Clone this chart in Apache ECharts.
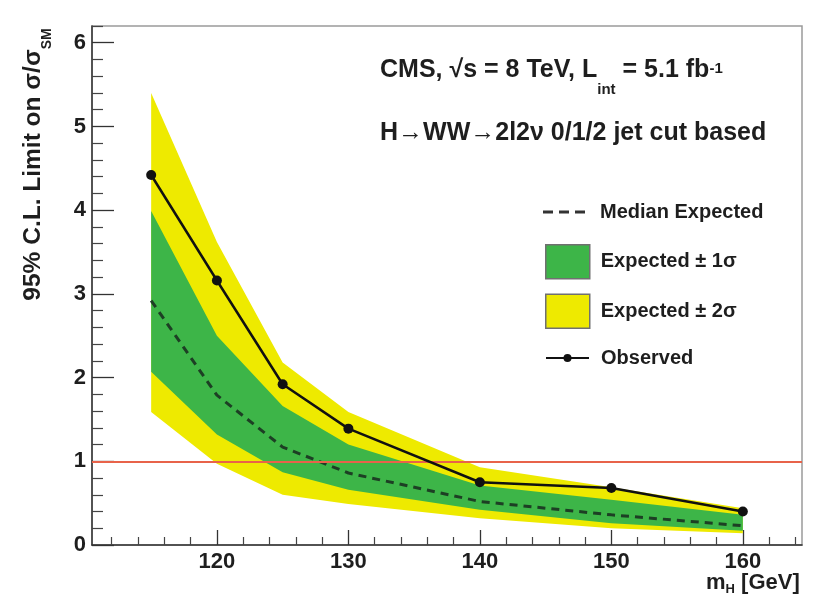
<!DOCTYPE html>
<html>
<head>
<meta charset="utf-8">
<script src="https://cdn.jsdelivr.net/npm/echarts@6/dist/echarts.min.js"></script>
<style>
html,body{margin:0;padding:0;background:#fff;}
#chart{width:828px;height:600px;}
</style>
</head>
<body>
<div id="chart"></div>
<script>
// ---- data ----
const mass      = [115, 120, 125, 130, 140, 150, 160];
const observed  = [4.42, 3.16, 1.92, 1.39, 0.75, 0.68, 0.40];
const expMedian = [2.92, 1.79, 1.17, 0.86, 0.52, 0.36, 0.23];
const exp1sUp   = [3.99, 2.50, 1.66, 1.20, 0.71, 0.54, 0.36];
const exp1sDown = [2.07, 1.32, 0.87, 0.66, 0.42, 0.26, 0.17];
const exp2sUp   = [5.40, 3.62, 2.18, 1.59, 0.93, 0.69, 0.44];
const exp2sDown = [1.59, 0.97, 0.60, 0.49, 0.32, 0.20, 0.14];
const smLine    = 1;

const xMajorTicks = [120, 130, 140, 150, 160];
const xMinorTicks = [112, 114, 116, 118, 122, 124, 126, 128, 132, 134, 136, 138, 142, 144, 146, 148, 152, 154, 156, 158, 162, 164];
const yMajorTicks = [0, 1, 2, 3, 4, 5, 6];
const yMinorTicks = [0.2, 0.4, 0.6, 0.8, 1.2, 1.4, 1.6, 1.8, 2.2, 2.4, 2.6, 2.8, 3.2, 3.4, 3.6, 3.8, 4.2, 4.4, 4.6, 4.8, 5.2, 5.4, 5.6, 5.8, 6.2];

const FONT = '"Liberation Sans", Arial, Helvetica, sans-serif';
const YELLOW = '#eeea00';
const GREEN = '#3db548';
const TXT = '#1e1e1e';

function bandRenderer(up, down, fill) {
  return function (params, api) {
    if (params.dataIndex !== 0) return null;
    const pts = [];
    for (let i = 0; i < mass.length; i++) pts.push(api.coord([mass[i], up[i]]));
    for (let i = mass.length - 1; i >= 0; i--) pts.push(api.coord([mass[i], down[i]]));
    return { type: 'polygon', shape: { points: pts }, style: { fill: fill } };
  };
}

const chart = echarts.init(document.getElementById('chart'), null, { renderer: 'canvas' });

const option = {
  animation: false,
  backgroundColor: '#ffffff',
  textStyle: { fontFamily: FONT },
  title: [
    {
      left: 380, top: 58, padding: 0,
      text: '{a|CMS, √s = 8 TeV, L}{sub|int}{a| = 5.1 fb}{sup|-1}',
      textStyle: {
        rich: {
          a: { fontFamily: FONT, fontWeight: 'bold', fontSize: 25, lineHeight: 32, color: TXT, verticalAlign: 'top' },
          sub: { fontFamily: FONT, fontWeight: 'bold', fontSize: 15, lineHeight: 15, color: TXT, verticalAlign: 'top', padding: [24, 0, 0, 0] },
          sup: { fontFamily: FONT, fontWeight: 'bold', fontSize: 15, lineHeight: 15, color: TXT, verticalAlign: 'top', padding: [3, 0, 0, 0] }
        }
      }
    },
    {
      left: 380, top: 121, padding: 0,
      text: 'H→WW→2l2ν 0/1/2 jet cut based',
      textStyle: { fontFamily: FONT, fontWeight: 'bold', fontSize: 25, color: TXT }
    }
  ],
  legend: [
    {
      left: 543, top: 202, padding: 0, itemWidth: 42, itemHeight: 3,
      data: [{ name: 'Median Expected', icon: 'path://M0,0h10v3h-10z M16,0h10v3h-10z M32,0h10v3h-10z', itemStyle: { color: '#333333' } }],
      textStyle: { fontFamily: FONT, fontWeight: 'bold', fontSize: 20, color: TXT, padding: [0, 0, 0, 10] }
    },
    {
      left: 545, top: 244, padding: 0, orient: 'vertical', itemWidth: 44, itemHeight: 34, itemGap: 14,
      data: [{ name: 'Expected ± 1σ', icon: 'rect' }, { name: 'Expected ± 2σ', icon: 'rect' }],
      itemStyle: { borderColor: '#707070', borderWidth: 1.5 },
      textStyle: { fontFamily: FONT, fontWeight: 'bold', fontSize: 20, color: TXT, padding: [0, 0, 0, 6] }
    },
    {
      left: 545, top: 348, padding: 0, itemWidth: 43, itemHeight: 10,
      data: ['Observed'],
      textStyle: { fontFamily: FONT, fontWeight: 'bold', fontSize: 20, color: TXT, padding: [0, 0, 0, 7] }
    }
  ],
  grid: {
    left: 92, right: 26, top: 26, bottom: 55,
    show: true, borderColor: '#9a9a9a', borderWidth: 1.5, backgroundColor: '#ffffff',
    outerBoundsMode: 'none'
  },
  xAxis: [
    {
      type: 'value', min: 110.5, max: 164.5, position: 'bottom',
      name: '{a|m}{sub|H}{a| [GeV]}',
      nameLocation: 'end', nameGap: -96, nameMoveOverlap: false,
      nameTextStyle: {
        verticalAlign: 'top', padding: [27, 0, 0, 0],
        rich: {
          a: { fontFamily: FONT, fontWeight: 'bold', fontSize: 22, lineHeight: 24, color: TXT, verticalAlign: 'top' },
          sub: { fontFamily: FONT, fontWeight: 'bold', fontSize: 13, lineHeight: 13, color: TXT, verticalAlign: 'top', padding: [11, 0, 0, 0] }
        }
      },
      axisLine: { show: true, onZero: false, lineStyle: { color: '#333', width: 1.5 } },
      axisTick: { show: true, inside: true, length: 15, customValues: xMajorTicks, lineStyle: { color: '#333', width: 1.3 } },
      axisLabel: { show: true, customValues: xMajorTicks, margin: 6, fontFamily: FONT, fontWeight: 'bold', fontSize: 22, color: TXT },
      splitLine: { show: false }
    },
    {
      type: 'value', min: 110.5, max: 164.5, position: 'bottom', gridIndex: 0,
      axisLine: { show: false },
      axisTick: { show: true, inside: true, length: 8, customValues: xMinorTicks, lineStyle: { color: '#444', width: 1.2 } },
      axisLabel: { show: false },
      splitLine: { show: false }
    }
  ],
  yAxis: [
    {
      type: 'value', min: 0, max: 6.2, position: 'left',
      name: '{a|95% C.L. Limit on σ/σ}{sub|SM}',
      nameLocation: 'middle', nameGap: 41, nameRotate: 90, nameMoveOverlap: false,
      nameTextStyle: {
        padding: [0, 0, 0, 242],
        rich: {
          a: { fontFamily: FONT, fontWeight: 'bold', fontSize: 24.5, lineHeight: 30, color: TXT, verticalAlign: 'top' },
          sub: { fontFamily: FONT, fontWeight: 'bold', fontSize: 14, lineHeight: 14, color: TXT, verticalAlign: 'top', padding: [19, 0, 0, 0] }
        }
      },
      axisLine: { show: true, onZero: false, lineStyle: { color: '#333', width: 1.5 } },
      axisTick: { show: true, inside: true, length: 22, customValues: yMajorTicks, lineStyle: { color: '#333', width: 1.3 } },
      axisLabel: { show: true, customValues: yMajorTicks, margin: 6, fontFamily: FONT, fontWeight: 'bold', fontSize: 22, color: TXT },
      splitLine: { show: false }
    },
    {
      type: 'value', min: 0, max: 6.2, position: 'left', gridIndex: 0,
      axisLine: { show: false },
      axisTick: { show: true, inside: true, length: 11, customValues: yMinorTicks, lineStyle: { color: '#444', width: 1.2 } },
      axisLabel: { show: false },
      splitLine: { show: false }
    }
  ],
  series: [
    {
      name: 'Expected ± 2σ', type: 'custom', xAxisIndex: 0, yAxisIndex: 0, z: 1,
      itemStyle: { color: YELLOW },
      data: mass.map((m, i) => [m, exp2sUp[i], exp2sDown[i]]),
      encode: { x: 0, y: [1, 2] },
      renderItem: bandRenderer(exp2sUp, exp2sDown, YELLOW),
      silent: true
    },
    {
      name: 'Expected ± 1σ', type: 'custom', xAxisIndex: 0, yAxisIndex: 0, z: 2,
      itemStyle: { color: GREEN },
      data: mass.map((m, i) => [m, exp1sUp[i], exp1sDown[i]]),
      encode: { x: 0, y: [1, 2] },
      renderItem: bandRenderer(exp1sUp, exp1sDown, GREEN),
      silent: true
    },
    {
      name: 'Median Expected', type: 'line', xAxisIndex: 0, yAxisIndex: 0, z: 4,
      data: mass.map((m, i) => [m, expMedian[i]]),
      symbol: 'none',
      lineStyle: { color: '#1d3f24', width: 3, type: [8, 6] },
      itemStyle: { color: '#1d3f24' },
      markLine: {
        silent: true, symbol: ['none', 'none'], label: { show: false },
        lineStyle: { color: '#e8634a', width: 2, type: 'solid' },
        data: [{ yAxis: smLine }]
      }
    },
    {
      name: 'Observed', type: 'line', xAxisIndex: 0, yAxisIndex: 0, z: 5,
      data: mass.map((m, i) => [m, observed[i]]),
      symbol: 'circle', symbolSize: 10,
      lineStyle: { color: '#111', width: 2.5 },
      itemStyle: { color: '#111' }
    }
  ]
};

chart.setOption(option);
</script>
</body>
</html>
